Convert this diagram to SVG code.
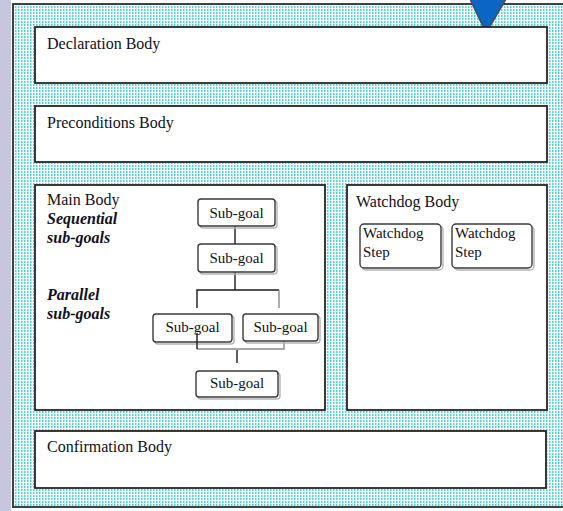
<svg xmlns="http://www.w3.org/2000/svg" width="563" height="511" viewBox="0 0 563 511">
  <defs>
    <!-- fine cyan dot screen used for the frame background -->
    <pattern id="dots" width="3" height="3" patternUnits="userSpaceOnUse">
      <rect width="3" height="3" fill="#f2fcfc"/>
      <rect x="0" y="0" width="2" height="2" fill="#a6e8e8"/>
      <rect x="0" y="0" width="1" height="2" fill="#5ccfcf"/>
    </pattern>
    <style>
      .body { fill: #ffffff; stroke: #262626; stroke-width: 1.8; }
      .step { fill: #ffffff; stroke: #3a3a3a; stroke-width: 1.4; }
      .shadow { fill: none; stroke: #b4b4b4; stroke-width: 1.4; }
      .label { font-family: "Liberation Serif", "DejaVu Serif", "Noto Serif", serif; font-size: 16px; fill: #101020; }
      .sub { font-family: "Liberation Serif", "DejaVu Serif", "Noto Serif", serif; font-size: 15px; fill: #101020; }
      .em { font-weight: bold; font-style: italic; }
      .wire { stroke: #1a1a1a; stroke-width: 1.4; fill: none; }
      .wire-soft { stroke: #8a8a8a; stroke-width: 1.4; fill: none; }
    </style>
  </defs>

  <rect width="563" height="511" fill="#ffffff"/>
  <!-- side strip -->
  <rect x="0" y="0" width="11" height="511" fill="#c6c6de"/>

  <!-- outer frame -->
  <g id="frame">
    <rect x="13" y="4" width="560" height="503" fill="url(#dots)" stroke="#2e2e2e" stroke-width="1.8"/>
  </g>

  <!-- pointer -->
  <g id="pointer">
    <polygon points="470,-1 506,-1 486,33" fill="#0a66c2" stroke="#4a4a58" stroke-width="1.5" stroke-linejoin="round"/>
  </g>

  <g id="declaration">
    <rect class="body" x="35" y="27" width="512" height="56"/>
    <text class="label" x="47" y="49">Declaration Body</text>
  </g>

  <g id="preconditions">
    <rect class="body" x="35" y="106" width="512" height="56"/>
    <text class="label" x="47" y="128">Preconditions Body</text>
  </g>

  <g id="main-body">
    <rect class="body" x="35" y="185" width="290" height="225"/>
    <text class="label" x="47" y="205">Main Body</text>
    <text class="label em" x="47" y="224">Sequential</text>
    <text class="label em" x="47" y="243">sub-goals</text>
    <text class="label em" x="47" y="300">Parallel</text>
    <text class="label em" x="47" y="319">sub-goals</text>
  </g>

  <g id="watchdog-body">
    <rect class="body" x="347" y="185" width="200" height="225"/>
    <text class="label" x="356" y="207">Watchdog Body</text>
  </g>

  <g id="confirmation">
    <rect class="body" x="35" y="431" width="511" height="57"/>
    <text class="label" x="47" y="452">Confirmation Body</text>
  </g>

  <!-- connectors of the sub-goal tree -->
  <g id="connectors">
    <line class="wire" x1="235" y1="226" x2="235" y2="244"/>
    <line class="wire" x1="235" y1="272" x2="235" y2="290"/>
    <polyline class="wire" points="197,308 197,290 279,290"/>
    <line class="wire-soft" x1="279" y1="290" x2="279" y2="308"/>
    <polyline class="wire-soft" points="197,349 284,349 284,341"/>
    <line class="wire" x1="237" y1="350" x2="237" y2="363"/>
  </g>

  <g id="subgoal-1">
    <rect class="shadow" x="200" y="201" width="77" height="27" rx="3"/>
    <rect class="step" x="198" y="199" width="77" height="27" rx="3"/>
    <text class="sub" x="236.5" y="218" text-anchor="middle">Sub-goal</text>
  </g>

  <g id="subgoal-2">
    <rect class="shadow" x="200" y="246" width="77" height="28" rx="3"/>
    <rect class="step" x="198" y="244" width="77" height="28" rx="3"/>
    <text class="sub" x="236.5" y="263" text-anchor="middle">Sub-goal</text>
  </g>

  <g id="subgoal-3">
    <rect class="shadow" x="155" y="316" width="79" height="28" rx="3"/>
    <rect class="step" x="153" y="314" width="79" height="28" rx="3"/>
    <text class="sub" x="192.5" y="332" text-anchor="middle">Sub-goal</text>
    <!-- tie line drawn over the box -->
    <line class="wire" x1="197" y1="333" x2="197" y2="349"/>
  </g>

  <g id="subgoal-4">
    <rect class="shadow" x="245" y="316" width="75" height="27" rx="3"/>
    <rect class="step" x="243" y="314" width="75" height="27" rx="3"/>
    <text class="sub" x="280.5" y="332" text-anchor="middle">Sub-goal</text>
  </g>

  <g id="subgoal-5">
    <rect class="shadow" x="198" y="373" width="82" height="26" rx="3"/>
    <rect class="step" x="196" y="371" width="82" height="26" rx="3"/>
    <text class="sub" x="237" y="388" text-anchor="middle">Sub-goal</text>
  </g>

  <g id="watchdog-step-1">
    <rect class="shadow" x="362" y="226" width="81" height="44" rx="4"/>
    <rect class="step" x="360" y="224" width="81" height="44" rx="4"/>
    <text class="sub" x="363" y="238">Watchdog</text>
    <text class="sub" x="363" y="257">Step</text>
  </g>

  <g id="watchdog-step-2">
    <rect class="shadow" x="454" y="226" width="80" height="44" rx="4"/>
    <rect class="step" x="452" y="224" width="80" height="44" rx="4"/>
    <text class="sub" x="455" y="238">Watchdog</text>
    <text class="sub" x="455" y="257">Step</text>
  </g>
</svg>
